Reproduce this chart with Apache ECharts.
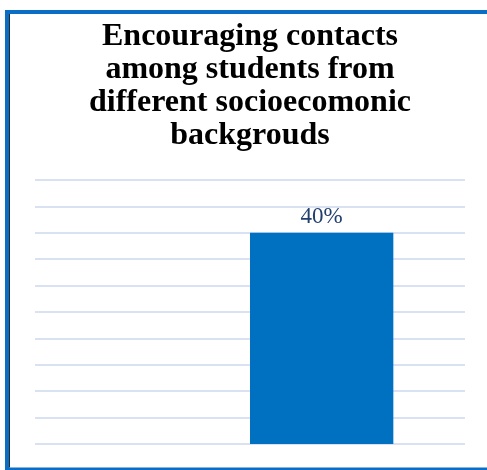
<!DOCTYPE html>
<html>
<head>
<meta charset="utf-8">
<script src="https://cdn.jsdelivr.net/npm/echarts@6/dist/echarts.min.js"></script>
<style>
  html, body { margin: 0; padding: 0; background: #ffffff; overflow: hidden; }
  #chart { width: 487px; height: 470px; }
</style>
</head>
<body>
<div id="chart"></div>
<script>
// Chart data
const titleText = 'Encouraging contacts\namong students from\ndifferent socioecomonic\nbackgrouds';
const categories = [''];
const firstSeries = [null];   // empty slot in the cluster
const secondSeries = [40];    // percent
const axisMax = 50;
const axisStep = 5;

const chart = echarts.init(document.getElementById('chart'), null, { renderer: 'canvas' });

const barLabel = {
  show: true,
  position: 'top',
  distance: 4,
  formatter: p => p.value + '%',
  color: '#22406e',
  fontFamily: 'Liberation Serif',
  fontSize: 23
};

const frameColor = '#0a6ec4';

chart.setOption({
  backgroundColor: '#ffffff',
  animation: false,
  title: {
    text: titleText,
    left: 250,
    top: 20,
    padding: 0,
    textAlign: 'center',
    textStyle: {
      fontFamily: 'Liberation Serif',
      fontWeight: 'bold',
      fontSize: 32,
      lineHeight: 33,
      color: '#000000'
    }
  },
  grid: { left: 35, right: 22, top: 180, bottom: 26, containLabel: false },
  xAxis: {
    type: 'category',
    data: categories,
    axisLine: { show: false },
    axisTick: { show: false },
    axisLabel: { show: false }
  },
  yAxis: {
    type: 'value',
    min: 0,
    max: axisMax,
    interval: axisStep,
    axisLine: { show: false },
    axisTick: { show: false },
    axisLabel: { show: false },
    splitLine: { lineStyle: { color: '#d8e2f3', width: 2 } }
  },
  series: [
    {
      type: 'bar',
      data: firstSeries,
      barGap: 0,
      barCategoryGap: '33.333%',
      itemStyle: { color: '#0070c0' },
      label: barLabel
    },
    {
      type: 'bar',
      data: secondSeries,
      barGap: 0,
      barCategoryGap: '33.333%',
      itemStyle: { color: '#0070c0' },
      label: barLabel
    }
  ],
  graphic: [
    // frame: top, left and bottom edges; the right edge runs off the page
    {
      type: 'line',
      shape: { x1: 5, y1: 12, x2: 487, y2: 12 },
      style: { stroke: frameColor, lineWidth: 4 },
      silent: true
    },
    {
      type: 'line',
      shape: { x1: 7, y1: 10, x2: 7, y2: 470 },
      style: { stroke: frameColor, lineWidth: 4 },
      silent: true
    },
    {
      type: 'line',
      shape: { x1: 5, y1: 469, x2: 487, y2: 469 },
      style: { stroke: frameColor, lineWidth: 3 },
      silent: true
    },
    {
      type: 'line',
      shape: { x1: 9.5, y1: 14, x2: 9.5, y2: 467.5 },
      style: { stroke: '#2a2a2a', lineWidth: 1 },
      silent: true
    }
  ]
});
</script>
</body>
</html>
